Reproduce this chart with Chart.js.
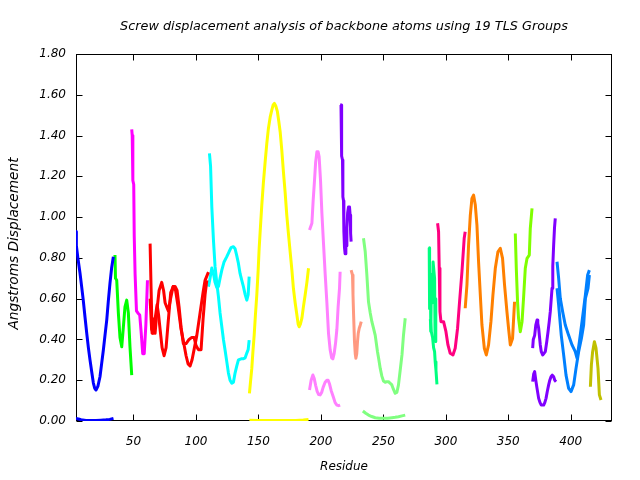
<!DOCTYPE html>
<html><head><meta charset="utf-8">
<script src="https://cdn.jsdelivr.net/npm/chart.js@4.4.1/dist/chart.umd.min.js"></script>
<style>html,body{margin:0;padding:0;background:#fff;}canvas{display:block;}</style>
</head><body>
<canvas id="c" width="640" height="480"></canvas>
<script>
const chartTitle = "Screw displacement analysis of backbone atoms using 19 TLS Groups";
const xTitle = "Residue";
const yTitle = "Angstroms Displacement";
const xTickValues = [50,100,150,200,250,300,350,400];
const yTickValues = [0,0.2,0.4,0.6,0.8,1.0,1.2,1.4,1.6,1.8];

const blueARes = [4.0,4.3,5.5,7.2,8.5,9.8,11.2,12.6,13.9,15.2,16.6,17.9,19.0,20.0,21.5,23.2,24.5,25.9,27.2,28.6,29.9,31.2,32.5,33.9];
const blueAVal = [0.93,0.86,0.80,0.726,0.66,0.593,0.51,0.43,0.36,0.30,0.24,0.186,0.16,0.152,0.17,0.217,0.28,0.348,0.42,0.495,0.59,0.676,0.75,0.806];
const blueBRes = [4,6,8,12,16,20,24,28,31,34];
const blueBVal = [0.012,0.010,0.006,0.003,0.002,0.002,0.004,0.006,0.008,0.013];
const greenRes = [35.2,35.6,36.6,37.9,39.2,40.6,41.9,43.2,44.6,45.3,45.9,47.2,48.6];
const greenVal = [0.814,0.70,0.69,0.53,0.41,0.364,0.46,0.56,0.593,0.56,0.53,0.364,0.225];
const magentaRes = [48.6,49.0,49.5,50.2,50.6,51.3,52.4,53.5,55.0,56.1,57.4,58.6,59.9,61.2];
const magentaVal = [1.43,1.40,1.18,1.16,0.91,0.72,0.54,0.53,0.52,0.44,0.33,0.33,0.47,0.69];
const redARes = [63.3,64.1,64.9,66.1,67.3,68.9,70.5,72.6,74.1,75.3,76.6,77.9,79.7,81.7,83.3,84.9,86.5,88.1,89.9,92.1,94.5,96.7,98.5,100.1,101.9,104.1,105.7,107.3,108.7];
const redAVal = [0.87,0.65,0.43,0.50,0.43,0.55,0.64,0.68,0.64,0.58,0.56,0.54,0.60,0.66,0.66,0.64,0.56,0.46,0.38,0.38,0.40,0.41,0.41,0.37,0.35,0.35,0.50,0.62,0.69];
const redBRes = [63.3,64.5,65.7,67.3,68.9,70.1,71.3,72.9,74.5,76.1,77.7,79.8,81.9,83.7,85.7,88.1,89.7,92.1,93.7,95.3,96.9,98.5,100.7,103.3,105.7,107.3,110.0];
const redBVal = [0.60,0.45,0.43,0.50,0.57,0.52,0.45,0.36,0.32,0.36,0.48,0.63,0.66,0.64,0.56,0.45,0.40,0.32,0.28,0.27,0.30,0.35,0.42,0.53,0.63,0.69,0.73];
const cyanARes = [110.8,111.7,112.7,114.0,115.3,116.7,118.0,119.3,120.7,122.0,123.3,124.7,126.0,127.3,128.7,130.0,131.3,132.7,134.0,136.2,137.7,139.4,140.7,141.8,142.6];
const cyanAVal = [1.313,1.25,1.05,0.888,0.757,0.676,0.61,0.53,0.462,0.40,0.348,0.29,0.235,0.20,0.185,0.19,0.235,0.27,0.30,0.305,0.305,0.31,0.333,0.35,0.397];
const cyanBRes = [110.0,111.3,112.7,114.1,115.3,116.7,118.0,119.3,120.7,122.5,124.7,126.5,128.1,130.0,131.3,132.7,134.0,135.3,136.7,138.0,139.4,140.7,141.8,142.6];
const cyanBVal = [0.659,0.70,0.75,0.72,0.68,0.655,0.66,0.70,0.74,0.78,0.806,0.83,0.85,0.855,0.845,0.81,0.773,0.724,0.69,0.659,0.62,0.593,0.62,0.708];
const yellowARes = [142.8,143.8,144.7,145.6,146.6,147.6,148.7,149.8,150.6,151.6,152.7,154.0,155.4,156.7,158.0,159.4,160.7,161.8,162.8,163.9,165.2,166.3,167.4,168.7,170.0,171.4,172.7,174.0,175.4,176.8,178.0,179.4,180.8,181.8,182.6,183.6,184.8,186.0,187.4,188.8,190.1];
const yellowAVal = [0.136,0.20,0.258,0.34,0.42,0.52,0.618,0.74,0.847,0.95,1.059,1.17,1.272,1.36,1.435,1.49,1.525,1.55,1.558,1.545,1.517,1.47,1.419,1.33,1.223,1.12,1.01,0.92,0.83,0.74,0.651,0.58,0.52,0.475,0.462,0.475,0.504,0.56,0.618,0.68,0.749];
const yellowBRes = [142.8,150,160,170,180,186,190.1];
const yellowBVal = [0.004,0.003,0.002,0.002,0.003,0.005,0.008];
const pinkARes = [190.9,192.8,193.8,194.9,195.8,196.8,197.8,198.6,199.7,200.8,202.1,203.4,204.8,206.1,207.4,208.6,209.6,210.6,211.7,212.8,213.8,214.9,215.4];
const pinkAVal = [0.937,0.97,1.08,1.18,1.27,1.32,1.32,1.296,1.18,1.02,0.87,0.724,0.58,0.43,0.35,0.31,0.305,0.33,0.38,0.45,0.56,0.65,0.732];
const pinkBRes = [190.9,192.2,193.6,194.6,195.8,197.0,198.2,199.4,200.6,201.8,203.4,204.8,205.8,207.0,208.2,210.1,211.4,212.8,214.2,215.4];
const pinkBVal = [0.152,0.20,0.226,0.21,0.175,0.145,0.13,0.128,0.14,0.165,0.19,0.20,0.20,0.18,0.15,0.115,0.09,0.078,0.075,0.078];
const purpleRes = [215.4,216.1,216.4,216.8,217.3,217.6,218.1,218.4,218.9,219.4,220.0,220.5,220.8,221.4,222.1,222.9,223.4,223.8,224.2];
const purpleVal = [1.55,1.55,1.49,1.30,1.28,1.10,1.08,0.93,0.85,0.82,0.88,0.86,0.95,1.02,1.05,1.05,1.01,0.92,0.88];
const salmonRes = [224.2,225.3,225.7,226.1,226.9,227.5,228.0,228.7,229.3,229.9,230.7,231.5,232.3];
const salmonVal = [0.74,0.716,0.62,0.536,0.389,0.33,0.308,0.33,0.389,0.43,0.455,0.47,0.487];
const lgreenARes = [234.1,235.5,236.8,238.1,239.5,240.8,242.1,243.5,245.3,246.4,247.5,248.8,250.1,251.5,252.8,254.1,255.5,256.8,258.1,259.5,260.8,262.1,263.5,264.9,266.1,267.5];
const lgreenAVal = [0.896,0.83,0.716,0.585,0.53,0.487,0.455,0.42,0.34,0.30,0.258,0.22,0.196,0.19,0.193,0.193,0.185,0.177,0.155,0.136,0.14,0.177,0.25,0.324,0.42,0.504];
const lgreenBRes = [233.6,235.9,238.1,240.7,243.5,246.7,250.1,253.5,256.8,259.5,262.1,264.9,267.5];
const lgreenBVal = [0.049,0.038,0.029,0.022,0.016,0.014,0.013,0.014,0.016,0.018,0.021,0.025,0.029];
const springARes = [286.7,286.8,287.2,287.6,288.0,288.5,289.0,289.4,289.8,290.5,291.0,291.4,291.8,292.1];
const springAVal = [0.85,0.55,0.73,0.68,0.44,0.70,0.72,0.58,0.78,0.78,0.70,0.39,0.60,0.55];
const springBRes = [287.6,288.3,289.4,290.2,291.0,291.5,292.1,292.9];
const springBVal = [0.50,0.44,0.41,0.36,0.34,0.29,0.25,0.18];
const roseRes = [293.4,294.2,294.7,295.3,296.1,298.2,300.1,301.7,303.5,305.7,307.5,309.4,311.0,312.9,314.7,315.5];
const roseVal = [0.97,0.928,0.749,0.536,0.487,0.487,0.438,0.373,0.332,0.324,0.357,0.455,0.585,0.732,0.896,0.928];
const orangeRes = [315.5,316.9,318.2,319.6,320.9,322.2,323.6,324.9,326.2,327.6,328.9,330.8,332.4,334.2,336.1,337.7,339.6,341.7,343.6,345.4,347.0,348.9,350.2,351.6,353.4,355.0];
const orangeVal = [0.553,0.667,0.863,1.01,1.092,1.108,1.059,0.961,0.781,0.618,0.471,0.357,0.324,0.373,0.487,0.618,0.749,0.83,0.847,0.798,0.667,0.536,0.455,0.373,0.405,0.585];
const chartreuseRes = [355.6,356.4,357.4,358.2,359.6,361.0,362.2,363.6,365.0,366.8,367.6,369.0];
const chartreuseVal = [0.92,0.749,0.585,0.504,0.438,0.487,0.602,0.749,0.798,0.814,0.945,1.043];
const violetARes = [369.5,370.0,371.1,372.0,373.0,373.6,374.3,375.6,376.4,377.5,378.4,379.6,380.8,381.8,382.8,383.6,385.0,385.6,386.3,387.0,387.6];
const violetAVal = [0.357,0.40,0.42,0.47,0.495,0.48,0.455,0.373,0.34,0.324,0.33,0.34,0.39,0.438,0.49,0.536,0.651,0.76,0.863,0.95,0.994];
const violetBRes = [369.5,370.3,371.1,372.0,373.0,374.3,375.4,376.4,378.3,379.2,380.2,381.2,382.3,383.2,384.2,385.2,386.3,387.2,388.2];
const violetBVal = [0.193,0.23,0.242,0.20,0.16,0.111,0.09,0.078,0.078,0.09,0.111,0.145,0.177,0.20,0.217,0.225,0.217,0.20,0.193];
const azureARes = [389.0,390.3,391.6,393.5,395.6,398.3,401.0,403.6,405.0,406.9,409.0,411.7,413.5,414.9];
const azureAVal = [0.781,0.70,0.602,0.536,0.471,0.42,0.373,0.34,0.308,0.389,0.487,0.618,0.716,0.74];
const azureBRes = [389.0,390.3,392.4,394.3,396.2,398.3,400.2,402.3,404.2,406.3,408.5,410.3,411.7,413.8,414.9];
const azureBVal = [0.651,0.569,0.42,0.324,0.225,0.16,0.144,0.177,0.258,0.34,0.405,0.471,0.602,0.651,0.716];
const oliveRes = [415.7,416.5,417.5,418.9,420.2,421.8,422.9,424.2];
const oliveVal = [0.168,0.275,0.34,0.389,0.357,0.258,0.128,0.103];

const curves = [
  [blueARes, blueAVal, '#0000ff'], [blueBRes, blueBVal, '#0000ff'],
  [greenRes, greenVal, '#00ff00'],
  [magentaRes, magentaVal, '#ff00ff'],
  [redARes, redAVal, '#ff0000'], [redBRes, redBVal, '#ff0000'],
  [cyanARes, cyanAVal, '#00ffff'], [cyanBRes, cyanBVal, '#00ffff'],
  [yellowARes, yellowAVal, '#ffff00'], [yellowBRes, yellowBVal, '#ffff00'],
  [pinkARes, pinkAVal, '#ff80ff'], [pinkBRes, pinkBVal, '#ff80ff'],
  [purpleRes, purpleVal, '#8000ff'],
  [salmonRes, salmonVal, '#ff9980'],
  [lgreenARes, lgreenAVal, '#80ff80'], [lgreenBRes, lgreenBVal, '#80ff80'],
  [springARes, springAVal, '#00ff80'], [springBRes, springBVal, '#00ff80'],
  [roseRes, roseVal, '#ff0080'],
  [orangeRes, orangeVal, '#ff8000'],
  [chartreuseRes, chartreuseVal, '#80ff00'],
  [violetARes, violetAVal, '#8000ff'], [violetBRes, violetBVal, '#8000ff'],
  [azureARes, azureAVal, '#0080ff'], [azureBRes, azureBVal, '#0080ff'],
  [oliveRes, oliveVal, '#c0c000']
];

const datasets = curves.map(([r, v, col]) => ({
  data: r.map((x, i) => ({x: x, y: v[i]})).filter(p => p.y !== undefined),
  borderColor: col, backgroundColor: col, borderWidth: 3,
  pointRadius: 0, tension: 0, fill: false, borderJoinStyle: 'round', borderCapStyle: 'butt'
}));

const FONT = 'DejaVu Sans';
Chart.defaults.font.family = FONT;
Chart.defaults.font.size = 12;
Chart.defaults.font.style = 'italic';
Chart.defaults.color = '#000';

const framePlugin = {
  id: 'frame',
  beforeDatasetsDraw(chart) {
    const ctx = chart.ctx, a = chart.chartArea;
    const L = Math.round(a.left) + 0.5, R = Math.round(a.right) - 0.5;
    const T = Math.round(a.top) + 0.5, B = Math.round(a.bottom) - 0.5;
    ctx.save();
    ctx.strokeStyle = '#000'; ctx.lineWidth = 1;
    ctx.strokeRect(L, T, R - L, B - T);
    const tl = 6;
    ctx.beginPath();
    chart.scales.x.ticks.forEach(t => {
      const px = Math.round(chart.scales.x.getPixelForValue(t.value)) + 0.5;
      ctx.moveTo(px, B); ctx.lineTo(px, B - tl);
      ctx.moveTo(px, T); ctx.lineTo(px, T + tl);
    });
    chart.scales.y.ticks.forEach(t => {
      const py = Math.round(chart.scales.y.getPixelForValue(t.value)) + 0.5;
      ctx.moveTo(L, py); ctx.lineTo(L + tl, py);
      ctx.moveTo(R, py); ctx.lineTo(R - tl, py);
    });
    ctx.stroke();
    ctx.restore();
  },
  afterDraw(chart) {
    const ctx = chart.ctx, a = chart.chartArea;
    const cx = (a.left + a.right) / 2, cy = (a.top + a.bottom) / 2;
    ctx.save();
    ctx.fillStyle = '#000';
    ctx.textAlign = 'center'; ctx.textBaseline = 'middle';
    ctx.font = 'italic 12.8px "' + FONT + '"';
    ctx.fillText(chartTitle, cx, 27);
    ctx.font = 'italic 12px "' + FONT + '"';
    ctx.fillText(xTitle, cx, 467);
    ctx.font = 'italic 13.7px "' + FONT + '"';
    ctx.translate(14, cy + 6);
    ctx.rotate(-Math.PI / 2);
    ctx.fillText(yTitle, 0, 0);
    ctx.restore();
  }
};

new Chart(document.getElementById('c'), {
  type: 'line',
  data: { datasets: datasets },
  options: {
    responsive: false, animation: false, devicePixelRatio: 1,
    layout: { padding: { left: 0, right: 28, top: 54, bottom: 0 } },
    plugins: { legend: { display: false }, title: { display: false }, tooltip: { enabled: false } },
    scales: {
      x: {
        type: 'linear', min: 4, max: 433,
        grid: { display: false, drawTicks: false },
        border: { display: false },
        afterBuildTicks: s => { s.ticks = xTickValues.map(v => ({value: v})); },
        afterFit: s => { s.height = 59; },
        ticks: { autoSkip: false, maxRotation: 0, padding: 14, callback: v => String(v) }
      },
      y: {
        type: 'linear', min: 0, max: 1.8,
        grid: { display: false, drawTicks: false },
        border: { display: false },
        afterBuildTicks: s => { s.ticks = yTickValues.map(v => ({value: v})); },
        afterFit: s => { s.width = 76; },
        ticks: { autoSkip: false, padding: 10, callback: v => Number(v).toFixed(2) }
      }
    }
  },
  plugins: [framePlugin]
});
</script>
</body></html>
